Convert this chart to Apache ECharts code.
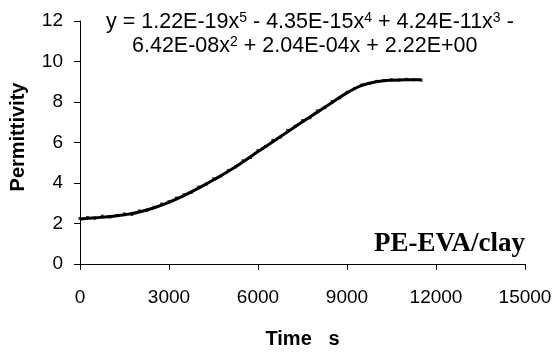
<!DOCTYPE html>
<html>
<head>
<meta charset="utf-8">
<script src="https://cdn.jsdelivr.net/npm/echarts@6/dist/echarts.min.js"></script>
<style>
  html, body { margin: 0; padding: 0; background: #fff; }
  #chart { width: 555px; height: 354px; }
</style>
</head>
<body>
<div id="chart"></div>
<script>
// fitted curve
const fitTimes = [0, 500, 1000, 1500, 2000, 2500, 3000, 3500, 4000, 4500, 5000, 5500,
  6000, 6500, 7000, 7500, 8000, 8500, 9000, 9500, 10000, 10500, 11000, 11500]
const fitValues = [2.22, 2.28, 2.34, 2.43, 2.57, 2.78, 3.05, 3.38, 3.75, 4.15, 4.58, 5.05,
  5.55, 6.04, 6.53, 7.02, 7.5, 7.98, 8.45, 8.82, 9.0, 9.08, 9.1, 9.1]

// measured points (dotted, slightly noisy)
const measTimes = [0, 250, 500, 750, 1000, 1250, 1500, 1750, 2000, 2250, 2500, 2750,
  3000, 3250, 3500, 3750, 4000, 4250, 4500, 4750, 5000, 5250, 5500, 5750,
  6000, 6250, 6500, 6750, 7000, 7250, 7500, 7750, 8000, 8250, 8500, 8750,
  9000, 9250, 9500, 9750, 10000, 10250, 10500, 10750, 11000, 11250, 11500]
const measValues = [2.25, 2.3, 2.26, 2.36, 2.32, 2.4, 2.47, 2.45, 2.62, 2.66, 2.8, 2.96,
  3.08, 3.26, 3.42, 3.54, 3.8, 3.94, 4.2, 4.34, 4.62, 4.8, 5.1, 5.26,
  5.6, 5.8, 6.1, 6.26, 6.6, 6.8, 7.08, 7.22, 7.56, 7.72, 8.02, 8.2,
  8.48, 8.66, 8.84, 8.92, 9.02, 9.06, 9.1, 9.08, 9.12, 9.1, 9.08]

const xTicks = [0, 3000, 6000, 9000, 12000, 15000]
const yTicks = [0, 2, 4, 6, 8, 10, 12]

const eqLine1 = ['y = 1.22E-19x', '5', ' - 4.35E-15x', '4', ' + 4.24E-11x', '3', ' -']
const eqLine2 = ['6.42E-08x', '2', ' + 2.04E-04x + 2.22E+00']

// alternate normal / superscript pieces into rich text
const richLine = (parts) => parts.map((p, i) => i % 2 ? `{sup|${p}}` : `{n|${p}}`).join('')

const chart = echarts.init(document.getElementById('chart'))
const font = '"Liberation Sans", Arial, sans-serif'
const eqRich = {
  n: { font: '21.5px ' + font, fill: '#000' },
  sup: { font: '14px ' + font, fill: '#000', verticalAlign: 'top' }
}

chart.setOption({
  animation: false,
  grid: { left: 80, right: 30, top: 21, bottom: 82 },
  xAxis: {
    type: 'value',
    min: xTicks[0],
    max: xTicks[xTicks.length - 1],
    interval: 3000,
    name: 'Time   s',
    nameLocation: 'middle',
    nameGap: 65,
    nameTextStyle: { fontFamily: font, fontSize: 20, fontWeight: 'bold', color: '#000' },
    axisLine: { lineStyle: { color: '#000', width: 1 } },
    axisTick: { show: true, length: 6, lineStyle: { color: '#000' } },
    axisLabel: { fontFamily: font, fontSize: 19, color: '#000', margin: 24, formatter: (v) => String(v) },
    splitLine: { show: false }
  },
  yAxis: {
    type: 'value',
    min: yTicks[0],
    max: yTicks[yTicks.length - 1],
    interval: 2,
    axisLine: { show: true, lineStyle: { color: '#000', width: 1 } },
    axisTick: { show: true, length: 6, lineStyle: { color: '#000' } },
    axisLabel: { fontFamily: font, fontSize: 19, color: '#000', margin: 17 },
    splitLine: { show: false }
  },
  series: [
    {
      type: 'scatter',
      data: measTimes.map((t, i) => [t, measValues[i]]),
      symbol: 'rect',
      symbolSize: 3,
      itemStyle: { color: '#000' },
      z: 2
    },
    {
      type: 'line',
      data: fitTimes.map((t, i) => [t, fitValues[i]]),
      smooth: true,
      showSymbol: false,
      lineStyle: { color: '#000', width: 3 },
      z: 3
    }
  ],
  graphic: [
    {
      type: 'text',
      x: 106,
      y: 22,
      style: { text: richLine(eqLine1), rich: eqRich, verticalAlign: 'middle' }
    },
    {
      type: 'text',
      x: 132,
      y: 46,
      style: { text: richLine(eqLine2), rich: eqRich, verticalAlign: 'middle' }
    },
    {
      type: 'text',
      x: 18,
      y: 137,
      rotation: Math.PI / 2,
      style: {
        text: 'Permittivity',
        font: 'bold 20px ' + font,
        fill: '#000',
        align: 'center',
        verticalAlign: 'middle'
      }
    },
    {
      type: 'text',
      x: 525,
      y: 244,
      style: {
        text: 'PE-EVA/clay',
        font: 'bold 27px "Liberation Serif", "Times New Roman", serif',
        fill: '#000',
        align: 'right',
        verticalAlign: 'middle'
      }
    }
  ]
})
</script>
</body>
</html>
